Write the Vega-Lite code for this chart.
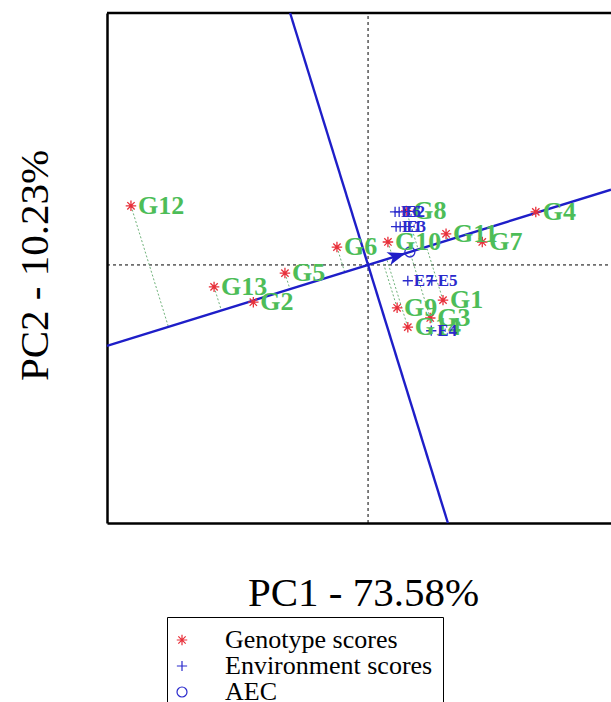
{
  "$schema": "https://vega.github.io/schema/vega-lite/v6.json",
  "width": 504,
  "height": 510,
  "autosize": {"type": "none"},
  "padding": {"left": 107, "top": 13, "right": 0, "bottom": 179},
  "background": "white",
  "datasets": {
    "points": [
      {"name": "G1", "type": "Genotype scores", "x": 1.47, "y": -0.69, "fx": 1.146, "fy": 0.355},
      {"name": "G2", "type": "Genotype scores", "x": -2.25, "y": -0.73, "fx": -2.259, "fy": -0.699},
      {"name": "G3", "type": "Genotype scores", "x": 1.22, "y": -1.04, "fx": 0.82, "fy": 0.254},
      {"name": "G4", "type": "Genotype scores", "x": 3.29, "y": 1.04, "fx": 3.297, "fy": 1.02},
      {"name": "G5", "type": "Genotype scores", "x": -1.63, "y": -0.16, "fx": -1.532, "fy": -0.474},
      {"name": "G6", "type": "Genotype scores", "x": -0.61, "y": 0.35, "fx": -0.458, "fy": -0.142},
      {"name": "G7", "type": "Genotype scores", "x": 2.24, "y": 0.45, "fx": 2.171, "fy": 0.672},
      {"name": "G8", "type": "Genotype scores", "x": 0.75, "y": 1.06, "fx": 0.984, "fy": 0.305},
      {"name": "G9", "type": "Genotype scores", "x": 0.57, "y": -0.84, "fx": 0.283, "fy": 0.088},
      {"name": "G10", "type": "Genotype scores", "x": 0.39, "y": 0.45, "fx": 0.483, "fy": 0.15},
      {"name": "G11", "type": "Genotype scores", "x": 1.53, "y": 0.61, "fx": 1.569, "fy": 0.486},
      {"name": "G12", "type": "Genotype scores", "x": -4.65, "y": 1.16, "fx": -3.916, "fy": -1.212},
      {"name": "G13", "type": "Genotype scores", "x": -3.02, "y": -0.43, "fx": -2.877, "fy": -0.891},
      {"name": "G14", "type": "Genotype scores", "x": 0.78, "y": -1.22, "fx": 0.367, "fy": 0.114},
      {"name": "E1", "type": "Environment scores", "x": 0.55, "y": 0.75},
      {"name": "E2", "type": "Environment scores", "x": 0.61, "y": 1.04},
      {"name": "E3", "type": "Environment scores", "x": 0.63, "y": 0.75},
      {"name": "E4", "type": "Environment scores", "x": 1.24, "y": -1.29},
      {"name": "E5", "type": "Environment scores", "x": 1.25, "y": -0.31},
      {"name": "E6", "type": "Environment scores", "x": 0.53, "y": 1.04},
      {"name": "E7", "type": "Environment scores", "x": 0.78, "y": -0.31},
      {"name": "AEC", "type": "AEC", "x": 0.82, "y": 0.254}
    ],
    "refLines": [
      {"x": 0, "y": -5.06, "x2": 0, "y2": 4.94},
      {"x": -5.12, "y": 0, "x2": 4.765, "y2": 0}
    ],
    "frame": [
      {"x": -5.12, "y": 4.94, "x2": 4.765, "y2": 4.94}
    ],
    "aecLines": [
      {"x": -5.12, "y": -1.585, "x2": 4.765, "y2": 1.475},
      {"x": -1.529, "y": 4.94, "x2": 1.566, "y2": -5.06}
    ],
    "arrow": [
      {"x": 0.57, "y": 0.177}
    ]
  },
  "layer": [
    {
      "data": {"name": "refLines"},
      "mark": {"type": "rule", "color": "black", "strokeWidth": 1, "strokeDash": [3, 3]},
      "encoding": {
        "x": {"field": "x", "type": "quantitative", "scale": {"domain": [-5.12, 4.765], "nice": false, "zero": false}, "title": "PC1 - 73.58%"},
        "y": {"field": "y", "type": "quantitative", "scale": {"domain": [-5.06, 4.94], "nice": false, "zero": false}, "title": "PC2 - 10.23%"},
        "x2": {"field": "x2"},
        "y2": {"field": "y2"}
      }
    },
    {
      "data": {"name": "frame"},
      "mark": {"type": "rule", "color": "black", "strokeWidth": 2.5},
      "encoding": {
        "x": {"field": "x", "type": "quantitative", "title": "PC1 - 73.58%"},
        "y": {"field": "y", "type": "quantitative", "title": "PC2 - 10.23%"},
        "x2": {"field": "x2"},
        "y2": {"field": "y2"}
      }
    },
    {
      "data": {"name": "points"},
      "transform": [{"filter": "datum.type === 'Genotype scores'"}],
      "mark": {"type": "rule", "color": "#6fb27a", "strokeWidth": 1, "strokeDash": [2, 2]},
      "encoding": {
        "x": {"field": "x", "type": "quantitative", "title": "PC1 - 73.58%"},
        "y": {"field": "y", "type": "quantitative", "title": "PC2 - 10.23%"},
        "x2": {"field": "fx"},
        "y2": {"field": "fy"}
      }
    },
    {
      "data": {"name": "aecLines"},
      "mark": {"type": "rule", "color": "#1e1ec8", "strokeWidth": 2.4},
      "encoding": {
        "x": {"field": "x", "type": "quantitative", "title": "PC1 - 73.58%"},
        "y": {"field": "y", "type": "quantitative", "title": "PC2 - 10.23%"},
        "x2": {"field": "x2"},
        "y2": {"field": "y2"}
      }
    },
    {
      "data": {"name": "arrow"},
      "mark": {"type": "point", "shape": "M1,0L-1,-0.75L-0.5,0L-1,0.75Z", "filled": true, "color": "#1e1ec8", "opacity": 1, "size": 324, "angle": -17.2},
      "encoding": {
        "x": {"field": "x", "type": "quantitative", "title": "PC1 - 73.58%"},
        "y": {"field": "y", "type": "quantitative", "title": "PC2 - 10.23%"}
      }
    },
    {
      "data": {"name": "points"},
      "mark": {"type": "point", "filled": false, "strokeWidth": 1.3, "opacity": 1},
      "encoding": {
        "x": {"field": "x", "type": "quantitative", "title": "PC1 - 73.58%"},
        "y": {"field": "y", "type": "quantitative", "title": "PC2 - 10.23%"},
        "color": {
          "field": "type", "type": "nominal",
          "scale": {"domain": ["Genotype scores", "Environment scores", "AEC"], "range": ["#e8303a", "#2a2acc", "#2a2acc"]},
          "legend": {
            "title": null, "orient": "none", "legendX": 60, "legendY": 604,
            "strokeColor": "black", "padding": 10,
            "labelFont": "Liberation Serif", "labelFontSize": 26, "labelColor": "black",
            "labelOffset": 30, "labelLimit": 400, "symbolOffset": -8,
            "symbolSize": 100, "symbolStrokeWidth": 1.2, "rowPadding": 0
          }
        },
        "shape": {
          "field": "type", "type": "nominal",
          "scale": {"domain": ["Genotype scores", "Environment scores", "AEC"], "range": ["M-1,0L1,0M0,-1L0,1M-0.7,-0.7L0.7,0.7M-0.7,0.7L0.7,-0.7", "M-1,0L1,0M0,-1L0,1", "circle"]},
          "legend": {
            "title": null, "orient": "none", "legendX": 60, "legendY": 604,
            "strokeColor": "black", "padding": 10,
            "labelFont": "Liberation Serif", "labelFontSize": 26, "labelColor": "black",
            "labelOffset": 30, "labelLimit": 400, "symbolOffset": -8,
            "symbolSize": 100, "symbolStrokeWidth": 1.2, "rowPadding": 0
          }
        },
        "size": {
          "field": "type", "type": "nominal",
          "scale": {"domain": ["Genotype scores", "Environment scores", "AEC"], "range": [110, 100, 50]},
          "legend": null
        }
      }
    },
    {
      "data": {"name": "points"},
      "transform": [{"filter": "datum.type === 'Genotype scores'"}],
      "mark": {"type": "text", "align": "left", "baseline": "middle", "dx": 7, "font": "Liberation Serif", "fontSize": 26, "fontWeight": "bold", "color": "#4dbd58"},
      "encoding": {
        "x": {"field": "x", "type": "quantitative", "title": "PC1 - 73.58%"},
        "y": {"field": "y", "type": "quantitative", "title": "PC2 - 10.23%"},
        "text": {"field": "name"}
      }
    },
    {
      "data": {"name": "points"},
      "transform": [{"filter": "datum.type === 'Environment scores'"}],
      "mark": {"type": "text", "align": "left", "baseline": "middle", "dx": 6, "font": "Liberation Serif", "fontSize": 17, "fontWeight": "bold", "color": "#2a2acc"},
      "encoding": {
        "x": {"field": "x", "type": "quantitative", "title": "PC1 - 73.58%"},
        "y": {"field": "y", "type": "quantitative", "title": "PC2 - 10.23%"},
        "text": {"field": "name"}
      }
    }
  ],
  "config": {
    "view": {"stroke": null},
    "font": "Liberation Serif",
    "axis": {
      "domain": true, "domainColor": "black", "domainWidth": 2.5,
      "ticks": false, "labels": false, "grid": false,
      "titleFont": "Liberation Serif", "titleFontSize": 41, "titleFontWeight": "normal",
      "titleColor": "black", "titleBaseline": "alphabetic", "titleAlign": "center",
      "minExtent": 0, "maxExtent": 0
    },
    "axisX": {"titleX": 256, "titleY": 82, "titleAngle": 0},
    "axisY": {"titleX": -60, "titleY": 252, "titleAngle": -90},
    "legend": {
      "labelFont": "Liberation Serif", "strokeWidth": 1
    }
  }
}
